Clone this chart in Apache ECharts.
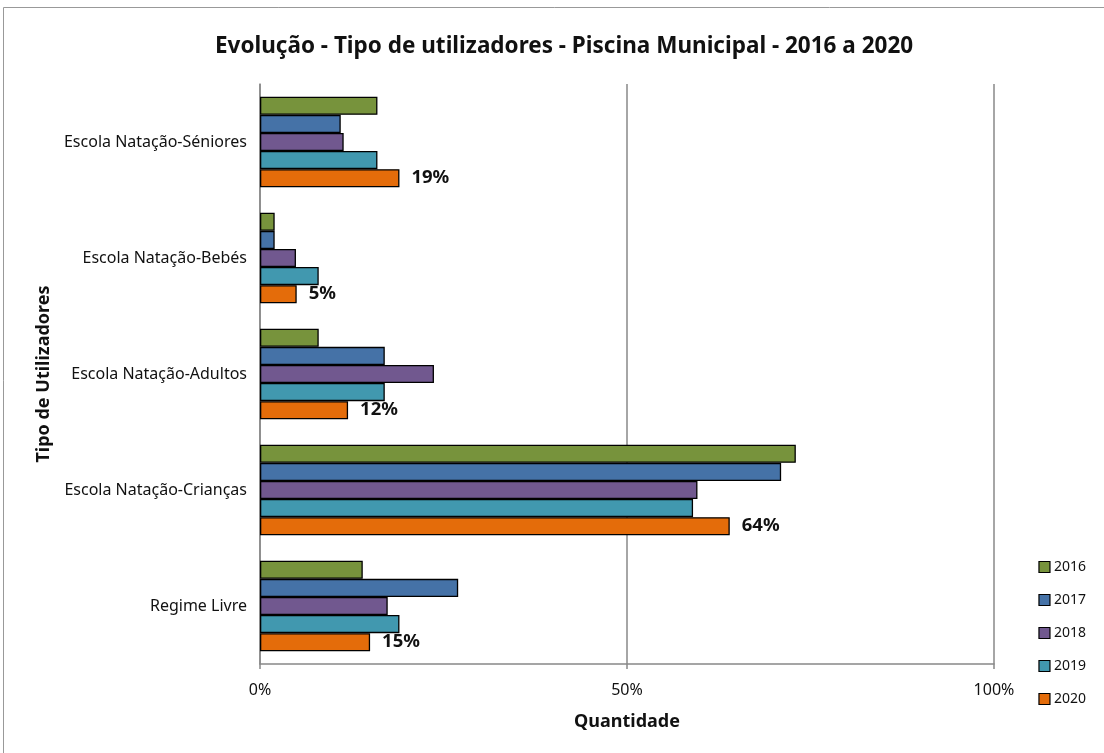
<!DOCTYPE html>
<html>
<head>
<meta charset="utf-8">
<script src="https://cdn.jsdelivr.net/npm/echarts@6/dist/echarts.min.js"></script>
<style>
html,body{margin:0;padding:0;background:#fff;}
#c{width:1104px;height:753px;}
</style>
</head>
<body>
<div id="c"></div>
<script>
const categories = ['Escola Natação-Séniores', 'Escola Natação-Bebés', 'Escola Natação-Adultos', 'Escola Natação-Crianças', 'Regime Livre'];
const years = ['2016', '2017', '2018', '2019', '2020'];
const v2016 = [16, 2, 8, 73, 14];
const v2017 = [11, 2, 17, 71, 27];
const v2018 = [11.4, 4.9, 23.7, 59.6, 17.4];
const v2019 = [16, 8, 17, 59, 19];
const v2020 = [19, 5, 12, 64, 15];
const xTicks = [0, 50, 100];

const values = [v2016, v2017, v2018, v2019, v2020];
const colors = ['#77933C', '#4572A7', '#71588F', '#4198AF', '#E46C0A'];
const font = '"Noto Sans", sans-serif';

const chart = echarts.init(document.getElementById('c'));
const series = years.map((y, i) => ({
  name: y,
  type: 'bar',
  data: values[i],
  barGap: '0%',
  barCategoryGap: '22%',
  itemStyle: { color: colors[i], borderColor: '#000', borderWidth: 1.3 },
  label: i === 4 ? {
    show: true, position: 'right', distance: 12,
    formatter: p => Math.round(p.value) + '%',
    fontFamily: font, fontWeight: 'bold', fontSize: 18.5, color: '#111'
  } : { show: false }
}));

chart.setOption({
  animation: false,
  backgroundColor: '#fff',
  title: {
    text: 'Evolução - Tipo de utilizadores - Piscina Municipal - 2016 a 2020',
    left: 210, top: 30,
    textStyle: { fontFamily: font, fontWeight: 'bold', fontSize: 22.5, color: '#111' }
  },
  graphic: [{
    type: 'rect', shape: { x: 3.5, y: 7.5, width: 1110, height: 760 },
    style: { fill: 'none', stroke: '#999', lineWidth: 1 }, silent: true
  }],
  legend: {
    orient: 'vertical', right: 13, top: 555,
    data: years, itemWidth: 11, itemHeight: 11, itemGap: 19,
    icon: 'rect',
    itemStyle: { borderColor: '#000', borderWidth: 1.2 },
    textStyle: { fontFamily: font, fontSize: 14, color: '#111', padding: [0, 0, 0, -1] }
  },
  grid: { left: 260, right: 110, top: 84, bottom: 89, containLabel: false },
  xAxis: {
    type: 'value', min: 0, max: 100, interval: 50,
    name: 'Quantidade', nameLocation: 'middle', nameGap: 49,
    nameTextStyle: { fontFamily: font, fontWeight: 'bold', fontSize: 18, color: '#111' },
    axisLine: { show: true, lineStyle: { color: '#888', width: 1.5 } },
    axisTick: { show: true, length: 5, lineStyle: { color: '#888', width: 1.5 } },
    axisLabel: { formatter: v => xTicks.includes(v) ? v + '%' : '', fontFamily: font, fontSize: 16, color: '#111', margin: 18 },
    splitLine: { show: true, lineStyle: { color: '#888', width: 1.5 } }
  },
  yAxis: {
    type: 'category', data: categories, inverse: true,
    name: 'Tipo de Utilizadores', nameLocation: 'middle', nameGap: 198, nameRotate: 90,
    nameTextStyle: { fontFamily: font, fontWeight: 'bold', fontSize: 18, color: '#111' },
    axisLine: { show: true, lineStyle: { color: '#888', width: 1.5 } },
    axisTick: { show: false },
    axisLabel: { fontFamily: font, fontSize: 16, color: '#111', margin: 13 }
  },
  series: series
});
</script>
</body>
</html>
